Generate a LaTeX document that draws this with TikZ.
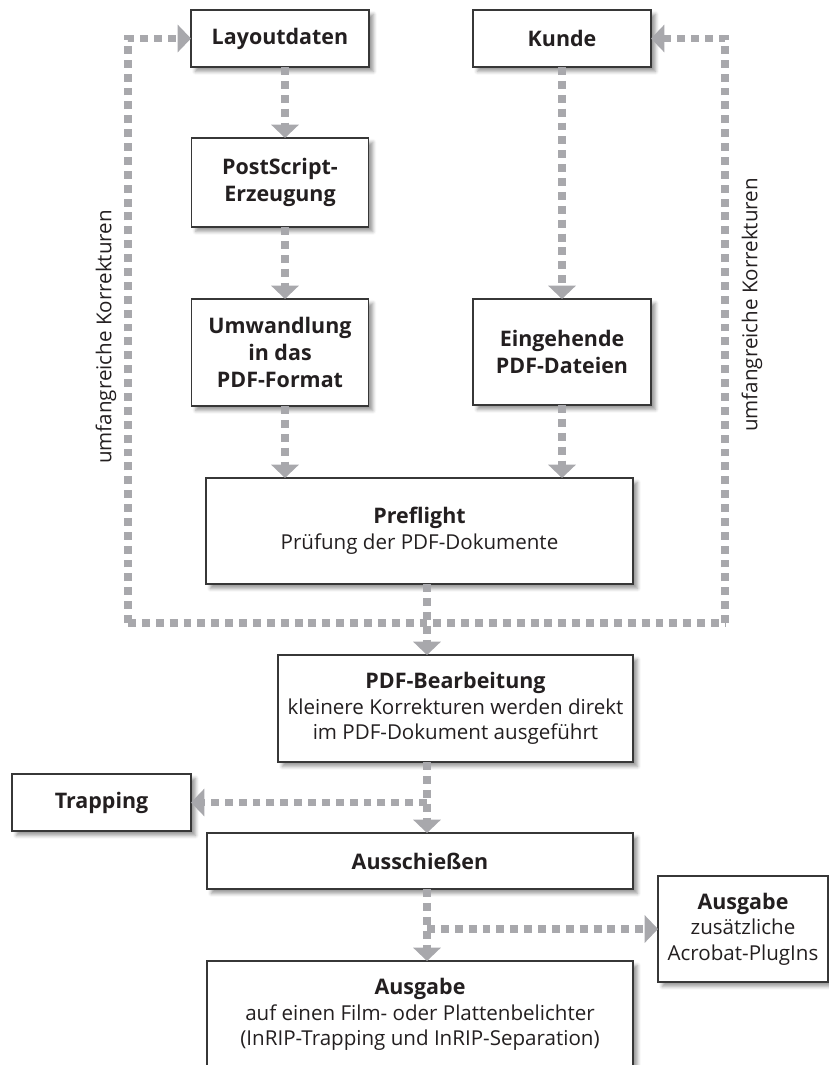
\documentclass[tikz,border=0pt]{standalone}
\usepackage{fontspec}
\setmainfont{Open Sans}
\usetikzlibrary{arrows.meta,shadows.blur}
\newcommand{\hd}[1]{{\fontsize{12.2}{15.6}\selectfont\bfseries #1}}

\begin{document}
\begin{tikzpicture}[
		scale=1.0,
		%Option for nice arrows
		>={Triangle[width=15.4pt,length=7.6pt]}, %
		inner sep=0pt, outer sep=0pt,%
		box/.style={draw=boxline, line width=0.8pt, fill=white, align=center,
			text=textdark, font=\fontsize{11.7}{14.6}\selectfont,
			blur shadow={shadow xshift=2.5pt, shadow yshift=-2.5pt,
				shadow blur radius=2pt, shadow opacity=40}},
		boldbox/.style={box, font=\bfseries\fontsize{12.2}{15.6}\selectfont},
		flow/.style={line width=4.5pt, color=flowgray, dash pattern=on 4.5pt off 3.4pt, ->},
		remark/.style={rotate=90, text=textdark, font=\fontsize{11.7}{14}\selectfont},
	]
		% Colors
		\definecolor{flowgray}{RGB}{168,168,172}
		\definecolor{boxline}{RGB}{55,55,55}
		\definecolor{textdark}{RGB}{35,31,32}

		% Frame
		\useasboundingbox (0,0) rectangle (16.58,-21.30);
		\coordinate (spine) at (8.54,0);

		% Boxes
		\node[boldbox, minimum width=3.56cm, minimum height=1.14cm] (layout) at (5.60,-0.77) {Layoutdaten};
		\node[boldbox, minimum width=3.56cm, minimum height=1.14cm] (kunde) at (11.24,-0.77) {Kunde};
		\node[boldbox, minimum width=3.54cm, minimum height=1.78cm] (postscript) at (5.60,-3.65)
			{PostScript-\\Erzeugung};
		\node[boldbox, minimum width=3.54cm, minimum height=2.14cm] (umwandlung) at (5.60,-7.05)
			{Umwandlung\\in das\\PDF-Format};
		\node[boldbox, minimum width=3.56cm, minimum height=2.12cm] (eingang) at (11.24,-7.04)
			{Eingehende\\PDF-Dateien};
		\node[box, minimum width=8.54cm, minimum height=2.12cm] (preflight) at (8.39,-10.62)
			{\hd{Preflight}\\Prüfung der PDF-Dokumente};
		\node[box, minimum width=7.10cm, minimum height=2.14cm] (bearbeitung) at (9.11,-14.17)
			{\hd{PDF-Bearbeitung}\\kleinere Korrekturen werden direkt\\im PDF-Dokument ausgeführt};
		\node[boldbox, minimum width=3.58cm, minimum height=1.14cm] (trapping) at (2.03,-16.05) {Trapping};
		\node[boldbox, minimum width=8.52cm, minimum height=1.12cm] (ausschiessen) at (8.40,-17.22) {Ausschießen};
		\node[box, minimum width=3.40cm, minimum height=2.12cm] (plugins) at (14.86,-18.58)
			{\hd{Ausgabe}\\zusätzliche\\Acrobat-PlugIns};
		\node[box, minimum width=8.52cm, minimum height=2.14cm] (ausgabe) at (8.40,-20.29)
			{\hd{Ausgabe}\\auf einen Film- oder Plattenbelichter\\(InRIP-Trapping und InRIP-Separation)};

		% Flow
		\draw[flow] ([xshift=0.1cm]layout.south) -- ([xshift=0.1cm]postscript.north);
		\draw[flow] ([xshift=0.1cm]postscript.south) -- ([xshift=0.1cm]umwandlung.north);
		\draw[flow] ([xshift=0.1cm]umwandlung.south) -- ([xshift=0.1cm]umwandlung.south |- preflight.north);
		\draw[flow] (kunde.south) -- (eingang.north);
		\draw[flow] (eingang.south) -- (eingang.south |- preflight.north);
		\draw[flow] (spine |- preflight.south) -- (spine |- bearbeitung.north);
		\draw[flow] (spine |- bearbeitung.south) -- (spine |- ausschiessen.north);
		\draw[flow] (spine |- ausschiessen.south) -- (spine |- ausgabe.north);
		\draw[flow] (spine |- trapping.east) -- (trapping.east);
		\draw[flow] (spine |- plugins.west) -- (plugins.west);

		% Corrections loop
		\coordinate (loopL) at (2.56,-12.46);
		\coordinate (loopR) at (14.50,-12.46);
		\draw[flow, -] (loopL) -- (loopR);
		\draw[flow] (loopL) |- (layout.west);
		\draw[flow] (loopR) |- (kunde.east);
		\node[remark] (notel) at (2.12,-6.74) {umfangreiche Korrekturen};
		\node[remark] (noter) at (15.04,-6.10) {umfangreiche Korrekturen};
	\end{tikzpicture}
\end{document}
